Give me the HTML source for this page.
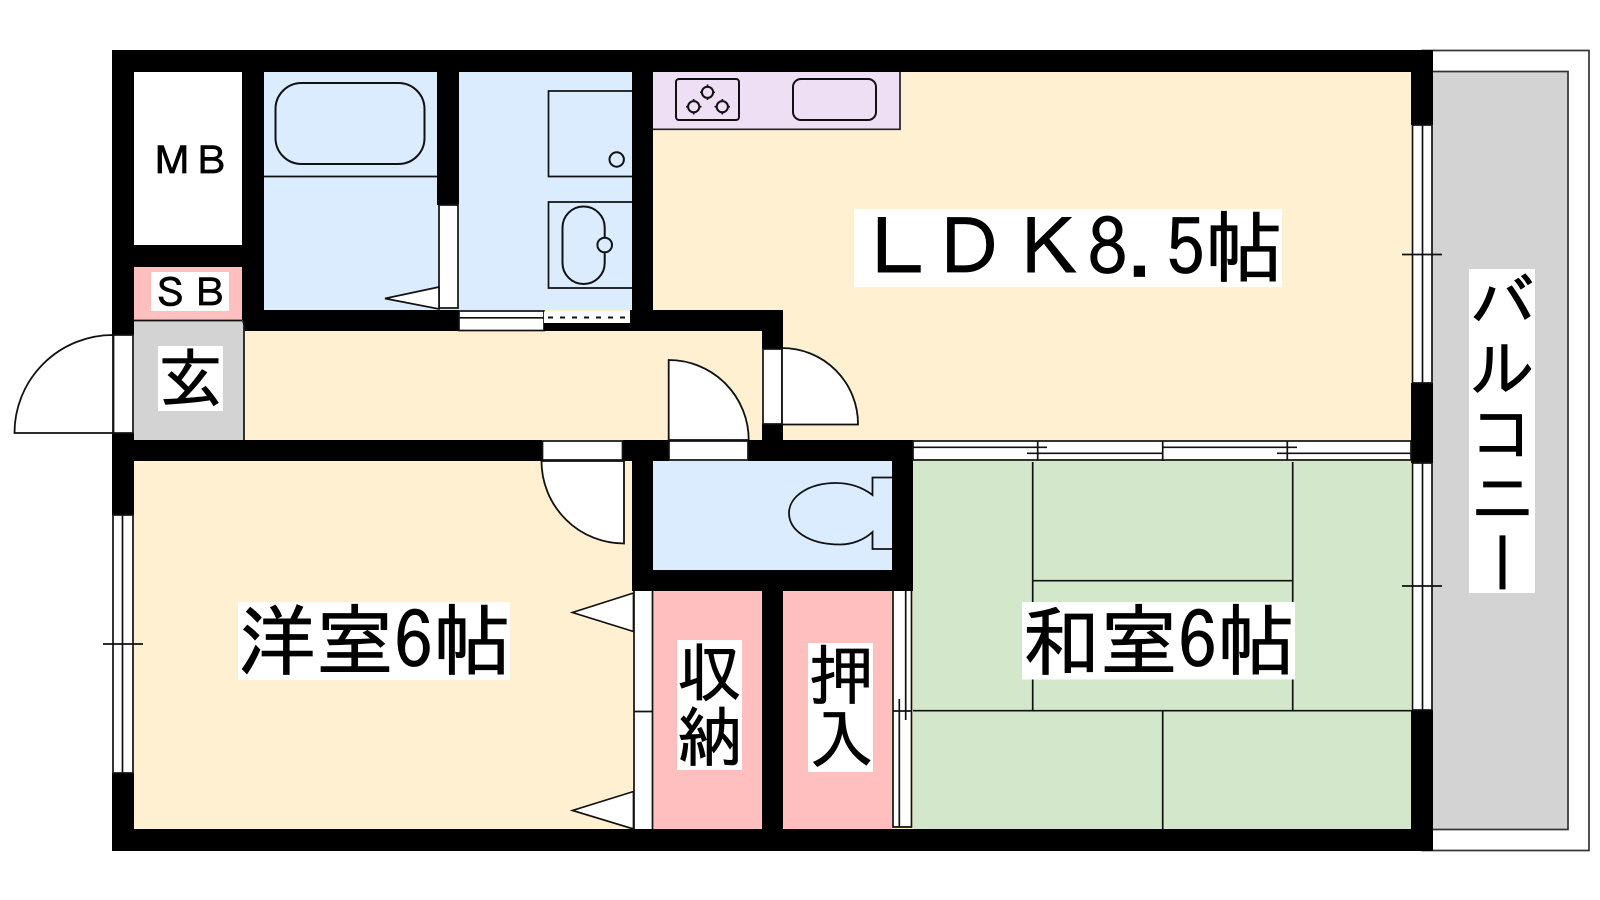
<!DOCTYPE html>
<html lang="ja"><head><meta charset="utf-8"><title>間取り図</title>
<style>
html,body{margin:0;padding:0;background:#fff;width:1600px;height:900px;overflow:hidden}
svg{position:absolute;left:0;top:0}
svg text{font-family:"IPAGothic","Noto Sans CJK JP",sans-serif;fill:#000;stroke:#000;stroke-width:.8}
#b{position:absolute;left:1470px;top:269px;width:65px;height:324px;background:#fff;writing-mode:vertical-rl;text-orientation:upright;font:65px/65px "IPAGothic","Noto Sans CJK JP",sans-serif;color:#000;-webkit-text-stroke:.8px #000;white-space:nowrap}
#bg{position:absolute;left:1469px;top:269px;width:65px;height:324px;background:#fff}
</style></head><body>
<svg width="1600" height="900" viewBox="0 0 1600 900" xmlns="http://www.w3.org/2000/svg">
<rect width="1600" height="900" fill="#fff"/>
<!-- balcony -->
<rect x="1422" y="50.500" width="167" height="800" fill="#fff" stroke="#333" stroke-width="1.700"/>
<rect x="1425" y="71.500" width="143" height="758" fill="#d3d3d3" stroke="#333" stroke-width="1.700"/>
<!-- floors -->
<rect x="134" y="72" width="1277" height="757" fill="#fef0d0"/>
<rect x="134" y="72" width="108" height="173" fill="#fff"/>
<rect x="134" y="267" width="108" height="53" fill="#ffbfbf"/>
<rect x="134" y="321" width="110" height="119" fill="#d3d3d3"/>
<rect x="264" y="72" width="368" height="238" fill="#dbecff"/>
<rect x="653" y="461" width="239" height="109" fill="#dbecff"/>
<rect x="653" y="591" width="109" height="238" fill="#ffbfbf"/>
<rect x="783" y="591" width="109" height="238" fill="#ffbfbf"/>
<rect x="913" y="461" width="498" height="368" fill="#d3e8cb"/>
<rect x="653" y="72" width="247" height="57" fill="#eedff5"/>
<path d="M653 129.300H900V72" fill="none" stroke="#222" stroke-width="1.700"/>
<!-- walls -->
<g fill="#000">
<rect x="112" y="50" width="1321" height="22"/>
<rect x="112" y="829" width="1321" height="22"/>
<rect x="112" y="50" width="22" height="285"/>
<rect x="112" y="433" width="22" height="82"/>
<rect x="112" y="773" width="22" height="78"/>
<rect x="1411" y="50" width="22" height="75"/>
<rect x="1411" y="383" width="22" height="80"/>
<rect x="1411" y="710" width="22" height="141"/>
<rect x="134" y="245" width="130" height="22"/>
<rect x="242" y="72" width="22" height="248"/>
<polygon points="242,320.500 264,310 459,310 459,331 245,331"/>
<rect x="437" y="72" width="22" height="133"/>
<rect x="632" y="72" width="21" height="259"/>
<rect x="630" y="310" width="153" height="21"/>
<rect x="762" y="310" width="21" height="39"/>
<rect x="762" y="424" width="21" height="20"/>
<rect x="112" y="440" width="430" height="21"/>
<rect x="623" y="440" width="46" height="21"/>
<rect x="748" y="440" width="165" height="21"/>
<rect x="632" y="440" width="21" height="151"/>
<rect x="892" y="440" width="21" height="151"/>
<rect x="632" y="570" width="281" height="21"/>
<rect x="762" y="570" width="21" height="259"/>
</g>
<g stroke="#111" stroke-width="1.700" fill="none">
<path d="M134 320.500H242M244 321V440"/>
<!-- bath -->
<path d="M264 176.500H437"/>
<rect x="275.500" y="83" width="149" height="81" rx="26" stroke-width="2"/>
<rect x="439" y="205" width="19" height="103" fill="#fff"/>
<path d="M439 287L385 298.500L439 309Z" fill="#fff"/>
<!-- wash -->
<path d="M632 91H548.500V176.500H632M632 202H548.500V288H632"/>
<circle cx="616.700" cy="159.500" r="7.200" stroke-width="2"/>
<rect x="562.500" y="206.500" width="42.200" height="77.500" rx="21" stroke-width="2"/>
<circle cx="604.700" cy="245" r="7.300" fill="#dbecff" stroke-width="2"/>
<rect x="459" y="311" width="85" height="19.500" fill="#fff"/>
<path d="M459 317.800H544"/>
<rect x="544" y="311.500" width="86" height="11.500" fill="#fff" stroke="none"/>
<rect x="544" y="323" width="86" height="8" fill="#000" stroke="none"/>
<path d="M548 317.500H626" stroke-dasharray="5 7" stroke-width="2"/>
<!-- kitchen -->
<rect x="676" y="79" width="63" height="41" rx="3" stroke-width="2"/>
<circle cx="707.500" cy="92.300" r="5.600" stroke-width="2"/>
<circle cx="693.700" cy="106.700" r="5.600" stroke-width="2"/>
<circle cx="722.300" cy="106.700" r="5.600" stroke-width="2"/>
<path d="M707.500 84.500v2.500M707.500 97.500v2.500M700 92.300h2.500M712.500 92.300h2.500M693.700 99v2.500M693.700 112v2.500M686 106.700h2.500M699 106.700h2.500M722.300 99v2.500M722.300 112v2.500M714.500 106.700h2.500M727.500 106.700h2.500"/>
<rect x="793" y="79" width="83" height="41" rx="8" stroke-width="2"/>
<!-- entrance door -->
<path d="M113 335A98.500 98 0 0 0 14.500 433H113Z" fill="#fff" stroke-width="1.800"/>
<rect x="113.500" y="335" width="19.500" height="98" fill="#fff"/>
<!-- LDK door -->
<rect x="763" y="349" width="19" height="75" fill="#fff"/>
<path d="M782 348A76 76 0 0 1 858 424.500H782Z" fill="#fff" stroke-width="1.800"/>
<!-- hall toilet door -->
<path d="M668.700 360A80 80 0 0 1 748.700 440H668.700Z" fill="#fff" stroke-width="1.800"/>
<rect x="669" y="441" width="79" height="19" fill="#fff"/>
<!-- yoshitsu door -->
<rect x="542.500" y="441" width="80" height="19" fill="#fff"/>
<path d="M541.500 461A82.500 82.500 0 0 0 624 543.500V461Z" fill="#fff" stroke-width="1.800"/>
<!-- toilet -->
<path d="M892 477.500H872.500V495C862 487 850 483 836 483C808 483 789 497 789 513C789 530 808 544.500 840 544.500C852 544.500 864 540 872.500 532V549H892" stroke-width="1.800"/>
<!-- closet doors -->
<rect x="634" y="591" width="18.500" height="238" fill="#fff" stroke="none"/>
<path d="M634 591V829M652.500 591V829M634 711.500H652.500"/>
<path d="M633.500 593L572.500 612.500L633.500 631.500Z" fill="#fff"/>
<path d="M633.500 791.500L572.500 810.500L633.500 829Z" fill="#fff"/>
<rect x="893" y="591" width="18.500" height="236" fill="#fff" stroke="none"/>
<path d="M893 591V827H911.500V591M893 711H911.500M905.700 591V720M899.300 699V827"/>
<!-- west window -->
<rect x="113" y="515" width="20" height="258" fill="#fff"/>
<path d="M122.500 515V773M103 644H143"/>
<!-- east windows -->
<rect x="1412.500" y="125" width="19.500" height="258" fill="#fff"/>
<path d="M1422.500 125V383M1402 254.500H1442"/>
<rect x="1412.500" y="463" width="19.500" height="247" fill="#fff"/>
<path d="M1422.500 463V710M1402 586H1442"/>
<!-- south window LDK -->
<rect x="913" y="441" width="498" height="19" fill="#fff"/>
<path d="M913 447.300H1047M1027 453.300H1162.700M1163 447.300H1297M1277 453.300H1411M1037.700 441V460M1162.700 441V461M1287.300 441V460"/>
<!-- tatami -->
<path d="M1032.700 462V711M1292.700 462V711M1032 580.700H1293M913 710.700H1411M1162.700 710V829"/>
</g>
<!-- label backgrounds -->
<g fill="#fff">
<rect x="854" y="209" width="428" height="78"/>
<rect x="238" y="602" width="272" height="78"/>
<rect x="1022" y="602" width="273" height="77.500"/>
<rect x="151" y="272" width="78" height="39"/>
<rect x="158" y="346" width="65" height="65"/>
<rect x="677" y="640" width="65" height="130"/>
<rect x="808" y="643" width="65" height="129"/>
<rect x="1469" y="269" width="65" height="324"/>
</g>
<text font-size="78" x="859 930 1010 1088 1127 1166 1205" y="276">ＬＤＫ8.5帖</text>
<text font-size="78" x="238 316 394 433" y="669">洋室6帖</text>
<text font-size="78" x="1022 1100 1178 1217" y="669">和室6帖</text>
<text font-size="39" x="152.500 191.500" y="175">ＭＢ</text>
<text font-size="39" x="151 190" y="307">ＳＢ</text>
<text font-size="65" x="158" y="402">玄</text>
<text font-size="65" x="677" y="696">収</text>
<text font-size="65" x="677" y="761">納</text>
<text font-size="65" x="809" y="699">押</text>
<text font-size="65" x="809" y="763">入</text>
</svg>
<div id="b">バルコニー</div>
</body></html>
